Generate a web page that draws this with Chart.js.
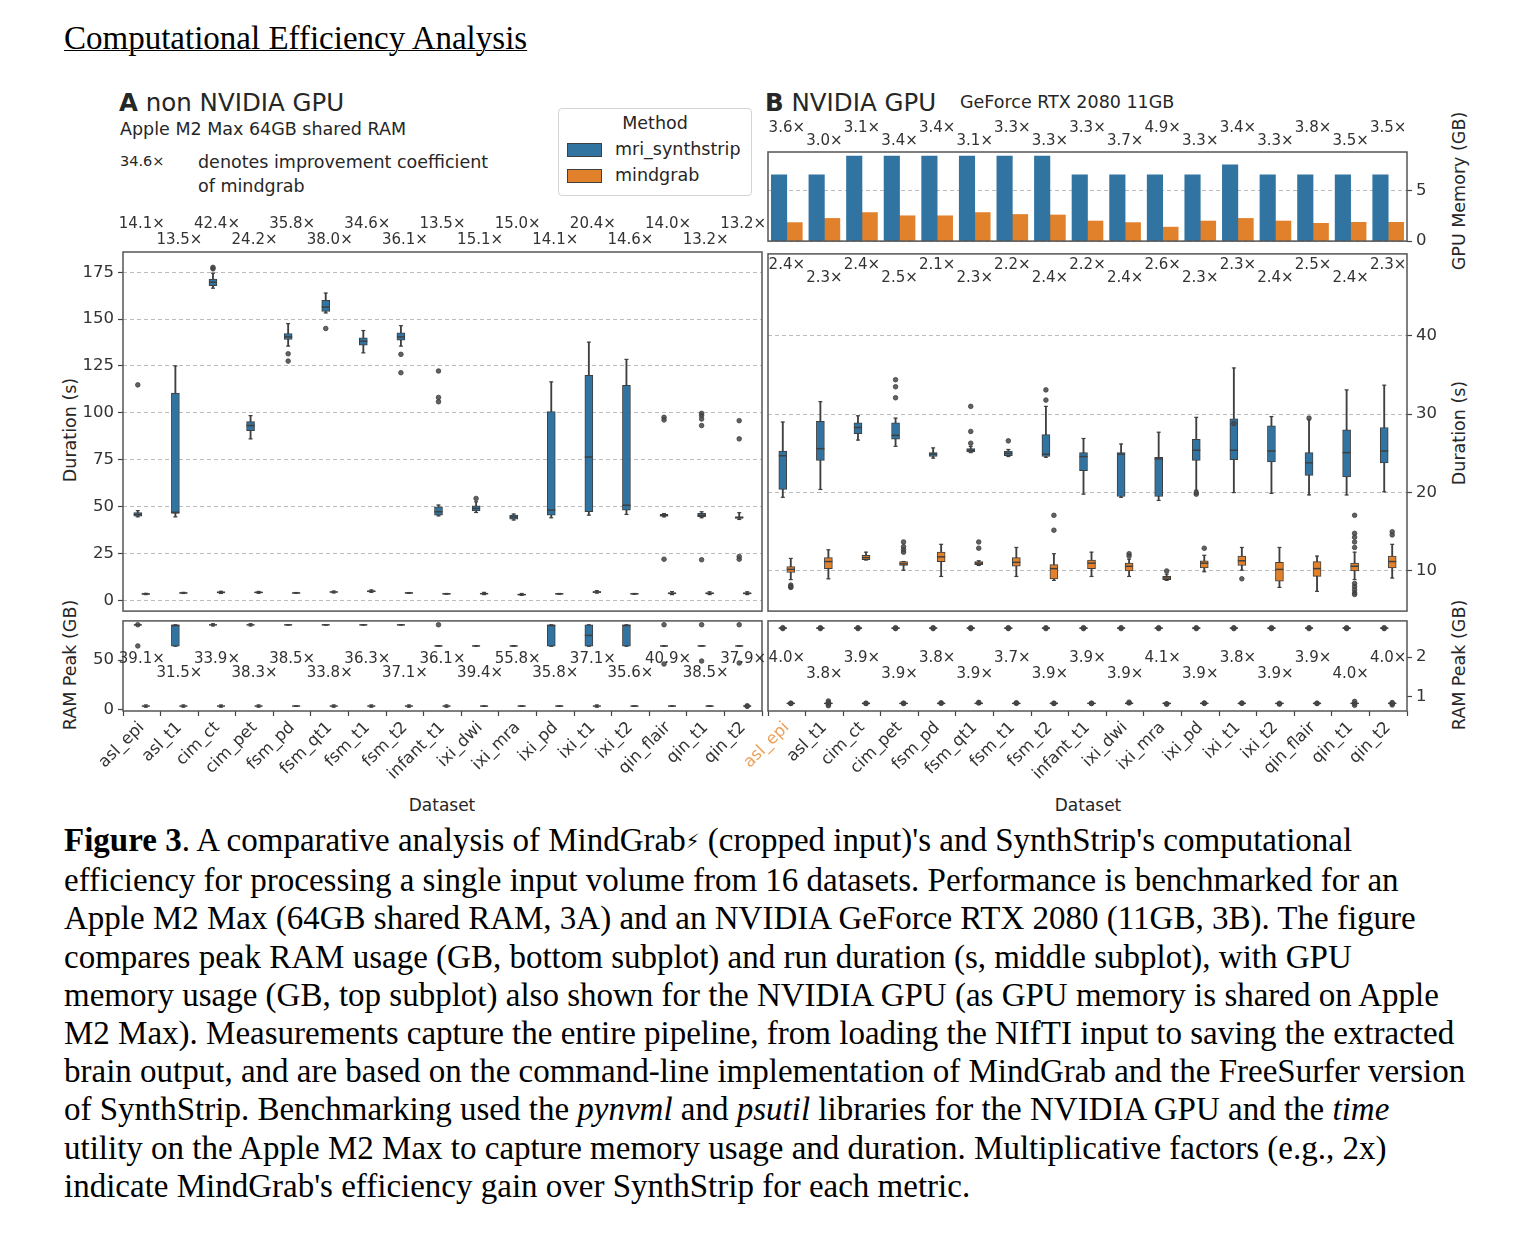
<!DOCTYPE html>
<html>
<head>
<meta charset="utf-8">
<title>Computational Efficiency Analysis</title>
<script src="https://cdn.jsdelivr.net/npm/chart.js@4.4.1/dist/chart.umd.min.js"></script>
<style>
    body { margin: 0; width: 1528px; height: 1233px; position: relative; overflow: hidden; background: #fff; color: #262626; font-family: "DejaVu Sans", sans-serif; }
    canvas { position: absolute; }
    .t { position: absolute; white-space: nowrap; line-height: 1; transform: translateY(-50%); }
    .rt { position: absolute; white-space: nowrap; line-height: 1; font-size: 17.5px; transform: translate(-50%, -50%) rotate(-90deg); }
    .ct { position: absolute; white-space: nowrap; line-height: 1; font-size: 17px; transform: translate(-50%, -50%); }
    #title { position: absolute; left: 64px; top: 20px; font: 33px "Liberation Serif", serif; line-height: 36px; text-decoration: underline; text-decoration-thickness: 1px; color: #000; }
    #caption { position: absolute; left: 64px; top: 821px; font: 33px "Liberation Serif", serif; line-height: 38.2px; white-space: nowrap; color: #000; }
    #caption .bolt { font-family: "DejaVu Sans", sans-serif; font-size: 0.6em; vertical-align: 0.15em; }
    #legend { position: absolute; left: 558px; top: 108px; width: 192px; height: 86px; border: 1px solid #d4d4d4; border-radius: 4px; background: #fff; font-size: 17.5px; }
    #legend .patch { position: absolute; left: 8px; width: 35px; height: 14px; border: 1px solid #3f3f3f; box-sizing: border-box; }
</style>
</head>
<body>

<div id="title">Computational Efficiency Analysis</div>

<div class="t" style="left:119px; top:103px; font-size:24.5px;"><b>A</b> non NVIDIA GPU</div>
<div class="t" style="left:120px; top:130px; font-size:17.5px;">Apple M2 Max 64GB shared RAM</div>
<div class="t" style="left:120px; top:161px; font-size:14.5px;">34.6×</div>
<div class="t" style="left:198px; top:163px; font-size:17.5px;">denotes improvement coefficient</div>
<div class="t" style="left:198px; top:187px; font-size:17.5px;">of mindgrab</div>

<div id="legend">
    <div class="ct" style="left:96px; top:15px; font-size:17.5px;">Method</div>
    <div class="patch" style="top:34px; background:#3274a1;"></div>
    <div class="t" style="left:56px; top:41px;">mri_synthstrip</div>
    <div class="patch" style="top:60px; background:#e1812c;"></div>
    <div class="t" style="left:56px; top:67px;">mindgrab</div>
</div>

<div class="t" style="left:765px; top:103px; font-size:24.5px;"><b>B</b> NVIDIA GPU</div>
<div class="t" style="left:960px; top:103px; font-size:17.5px;">GeForce RTX 2080 11GB</div>

<div class="rt" style="left:71px; top:430px;">Duration (s)</div>
<div class="rt" style="left:71px; top:665px;">RAM Peak (GB)</div>
<div class="rt" style="left:1460px; top:191px;">GPU Memory (GB)</div>
<div class="rt" style="left:1460px; top:433px;">Duration (s)</div>
<div class="rt" style="left:1460px; top:665px;">RAM Peak (GB)</div>
<div class="ct" style="left:442px; top:805px;">Dataset</div>
<div class="ct" style="left:1088px; top:805px;">Dataset</div>

<div id="caption"><b>Figure 3</b>. A comparative analysis of MindGrab<span class="bolt">⚡</span> (cropped input)'s and SynthStrip's computational<br>efficiency for processing a single input volume from 16 datasets. Performance is benchmarked for an<br>Apple M2 Max (64GB shared RAM, 3A) and an NVIDIA GeForce RTX 2080 (11GB, 3B). The figure<br>compares peak RAM usage (GB, bottom subplot) and run duration (s, middle subplot), with GPU<br>memory usage (GB, top subplot) also shown for the NVIDIA GPU (as GPU memory is shared on Apple<br>M2 Max). Measurements capture the entire pipeline, from loading the NIfTI input to saving the extracted<br>brain output, and are based on the command-line implementation of MindGrab and the FreeSurfer version<br>of SynthStrip. Benchmarking used the <i>pynvml</i> and <i>psutil</i> libraries for the NVIDIA GPU and the <i>time</i><br>utility on the Apple M2 Max to capture memory usage and duration. Multiplicative factors (e.g., 2x)<br>indicate MindGrab's efficiency gain over SynthStrip for each metric.</div>

<script>
// --- Data ---
const names = ["asl_epi", "asl_t1", "cim_ct", "cim_pet", "fsm_pd", "fsm_qt1", "fsm_t1", "fsm_t2",
    "infant_t1", "ixi_dwi", "ixi_mra", "ixi_pd", "ixi_t1", "ixi_t2", "qin_flair", "qin_t1", "qin_t2"];

// box stats are [whisker low, q1, median, q3, whisker high]
// A: Apple M2 Max, duration (s)
const aDurSynth = [
    [44.5, 44.9, 45.8, 46.8, 47.8], [44.5, 46.3, 46.9, 110.5, 125.0], [166.5, 167.9, 169.7, 171.3, 174.5],
    [86.1, 90.5, 93.2, 95.3, 98.5], [135.6, 139.1, 140.5, 142.3, 147.6], [153.3, 154.1, 156.4, 160.0, 163.9],
    [132.0, 136.1, 138.2, 140.0, 143.9], [135.6, 138.8, 140.5, 142.7, 146.5], [45.0, 45.4, 47.2, 49.8, 50.8],
    [46.8, 47.7, 49.0, 50.4, 52.5], [42.8, 43.3, 44.4, 45.4, 46.0], [44.0, 45.4, 48.1, 100.6, 116.5],
    [45.4, 47.2, 76.4, 120.0, 137.7], [45.8, 48.1, 50.7, 114.7, 128.5], [44.5, 44.9, 45.2, 45.8, 46.2],
    [44.0, 44.6, 45.3, 46.3, 47.2], [43.1, 43.6, 44.2, 44.5, 46.7]
];
const aDurSynthOut = [[114.9], [], [176.8, 177.6], [], [131.5, 127.6], [145.0], [], [131.2, 121.4],
    [122.3, 108.2, 105.9], [54.3], [], [], [], [], [97.6, 96.2, 21.9], [99.7, 98.5, 96.7, 93.2, 21.6],
    [95.8, 86.1, 23.3, 21.9]];
const aDurMind = [
    [3.0, 3.2, 3.35, 3.5, 3.7], [3.6, 3.8, 3.9, 4.0, 4.2], [3.6, 3.9, 4.2, 4.5, 4.8], [3.7, 4.1, 4.2, 4.3, 4.7],
    [3.7, 3.8, 3.9, 4.0, 4.1], [3.9, 4.3, 4.4, 4.5, 4.9], [4.2, 4.5, 4.8, 5.0, 5.5], [3.7, 3.8, 3.9, 4.0, 4.1],
    [3.2, 3.3, 3.4, 3.5, 3.6], [3.0, 3.3, 3.5, 3.7, 4.2], [2.6, 2.8, 3.0, 3.2, 3.6], [3.2, 3.3, 3.4, 3.5, 3.6],
    [3.8, 4.1, 4.4, 4.6, 5.1], [3.2, 3.3, 3.4, 3.5, 3.6], [3.0, 3.4, 3.7, 3.9, 4.6], [3.0, 3.4, 3.7, 3.9, 4.5],
    [3.0, 3.4, 3.7, 3.9, 4.5]
];
const aDurMindOut = names.map(() => []);
const aDurCoef = [14.1, 13.5, 42.4, 24.2, 35.8, 38.0, 34.6, 36.1, 13.5, 15.1, 15.0, 14.1, 20.4, 14.6, 14.0, 13.2, 13.2];
const aDurTicks = [0, 25, 50, 75, 100, 125, 150, 175];

// A: Apple M2 Max, RAM peak (GB)
const aRamSynth = [
    [85.7, 85.7, 85.7, 85.7, 85.7], [64.0, 64.0, 85.0, 85.7, 85.7], [84.6, 85.7, 85.7, 85.7, 86.8],
    [84.6, 85.7, 85.7, 85.7, 86.8], [85.7, 85.7, 85.7, 85.7, 85.7], [85.7, 85.7, 85.7, 85.7, 85.7],
    [85.7, 85.7, 85.7, 85.7, 85.7], [85.7, 85.7, 85.7, 85.7, 85.7], [64.3, 64.3, 64.3, 64.3, 64.3],
    [64.3, 64.3, 64.3, 64.3, 64.3], [64.3, 64.3, 64.3, 64.3, 64.3], [64.0, 64.0, 85.0, 85.7, 85.7],
    [64.0, 64.0, 75.0, 85.7, 85.7], [64.0, 64.0, 85.0, 85.7, 85.7], [64.3, 64.3, 64.3, 64.3, 64.3],
    [64.3, 64.3, 64.3, 64.3, 64.3], [64.3, 64.3, 64.3, 64.3, 64.3]
];
const aRamSynthOut = [[85.8, 64.3], [], [], [], [], [], [], [], [85.8], [], [], [], [], [],
    [85.8, 46.0], [85.8, 49.0], [85.8, 47.0]];
const aRamMind = [
    [2.2, 3.3, 3.3, 3.3, 4.4], [2.2, 3.3, 3.3, 3.3, 4.4], [2.2, 3.3, 3.3, 3.3, 4.4], [2.2, 3.3, 3.3, 3.3, 4.4],
    [3.3, 3.3, 3.3, 3.3, 3.3], [2.2, 3.3, 3.3, 3.3, 4.4], [2.2, 3.3, 3.3, 3.3, 4.4], [2.2, 3.3, 3.3, 3.3, 4.4],
    [2.2, 3.3, 3.3, 3.3, 4.4], [3.3, 3.3, 3.3, 3.3, 3.3], [3.3, 3.3, 3.3, 3.3, 3.3], [3.3, 3.3, 3.3, 3.3, 3.3],
    [2.2, 3.3, 3.3, 3.3, 4.4], [3.3, 3.3, 3.3, 3.3, 3.3], [3.3, 3.3, 3.3, 3.3, 3.3], [3.3, 3.3, 3.3, 3.3, 3.3],
    [3.3, 3.3, 3.3, 3.3, 3.3]
];
const aRamMindOut = [[], [], [], [], [], [], [], [], [], [], [], [], [], [], [], [], [3.0, 3.6]];
const aRamCoef = [39.1, 31.5, 33.9, 38.3, 38.5, 33.8, 36.3, 37.1, 36.1, 39.4, 55.8, 35.8, 37.1, 35.6, 40.9, 38.5, 37.9];
const aRamTicks = [0, 50];

// B: NVIDIA GPU, GPU memory (GB)
const gpuSynth = [6.6, 6.6, 8.46, 8.46, 8.46, 8.46, 8.46, 8.46, 6.6, 6.6, 6.6, 6.6, 7.6, 6.6, 6.6, 6.6, 6.6];
const gpuMind = [1.84, 2.26, 2.84, 2.52, 2.52, 2.84, 2.65, 2.6, 2.0, 1.84, 1.39, 2.0, 2.26, 2.0, 1.77, 1.87, 1.87];
const gpuCoef = [3.6, 3.0, 3.1, 3.4, 3.4, 3.1, 3.3, 3.3, 3.3, 3.7, 4.9, 3.3, 3.4, 3.3, 3.8, 3.5, 3.5];
const gpuTicks = [0, 5];

// B: NVIDIA GPU, duration (s)
const bDurSynth = [
    [19.4, 20.4, 24.7, 25.3, 29.0], [20.4, 24.1, 25.6, 29.1, 31.6], [26.7, 27.5, 28.3, 28.9, 29.8],
    [25.9, 26.8, 27.3, 28.9, 29.5], [24.4, 24.6, 24.9, 25.1, 25.7], [25.1, 25.2, 25.4, 25.6, 25.9],
    [24.6, 24.7, 25.0, 25.3, 25.5], [24.5, 24.6, 24.9, 27.4, 31.0], [19.8, 22.8, 24.6, 25.1, 26.9],
    [19.4, 19.5, 24.9, 25.1, 26.2], [19.0, 19.5, 24.3, 24.5, 27.7], [20.3, 24.1, 25.4, 26.8, 29.6],
    [20.0, 24.2, 25.4, 29.4, 35.9], [19.9, 23.9, 25.3, 28.5, 29.7], [19.7, 22.2, 23.8, 25.1, 29.3],
    [19.7, 22.0, 25.1, 28.0, 33.1], [20.1, 23.8, 25.3, 28.3, 33.7]
];
const bDurSynthOut = [[], [], [], [34.4, 33.5, 32.1], [], [31.0, 27.8, 26.3], [26.6], [33.1, 31.8], [], [], [],
    [20.0, 19.8], [28.8], [], [29.5], [], []];
const bDurMind = [
    [8.9, 9.8, 10.2, 10.55, 11.6], [9.0, 10.3, 11.2, 11.7, 12.7], [11.4, 11.45, 11.7, 12.0, 12.4],
    [10.1, 10.7, 10.9, 11.2, 11.2], [9.3, 11.2, 11.8, 12.4, 13.4], [10.7, 10.8, 11.0, 11.2, 11.3],
    [9.3, 10.6, 11.1, 11.7, 13.0], [8.8, 9.0, 10.3, 10.8, 12.2], [9.3, 10.3, 11.0, 11.4, 12.4],
    [9.3, 10.0, 10.6, 11.0, 11.5], [8.8, 8.9, 9.1, 9.3, 9.6], [9.9, 10.4, 11.0, 11.3, 12.0],
    [10.1, 10.7, 11.3, 11.9, 13.0], [7.9, 8.7, 10.2, 11.1, 13.0], [7.4, 9.3, 10.3, 11.2, 11.9],
    [8.9, 10.0, 10.6, 11.0, 12.4], [9.1, 10.4, 11.2, 11.9, 13.4]
];
const bDurMindOut = [[8.2, 7.9, 8.0], [], [], [13.7, 13.1, 12.7, 12.4], [], [13.7, 12.9], [], [17.1, 15.2], [],
    [12.2, 11.9], [10.0], [12.9], [9.0], [], [], [17.1, 14.8, 14.3, 13.7, 13.0, 8.4, 8.0, 7.6, 7.2, 7.0], [15.0, 14.6]];
const bDurCoef = [2.4, 2.3, 2.4, 2.5, 2.1, 2.3, 2.2, 2.4, 2.2, 2.4, 2.6, 2.3, 2.3, 2.4, 2.5, 2.4, 2.3];
const bDurTicks = [10, 20, 30, 40];

// B: NVIDIA GPU, RAM peak (GB)
const bRamSynth = names.map(() => [2.72, 2.73, 2.74, 2.75, 2.76]);
const bRamSynthOut = names.map(() => [2.728, 2.752]);
const bRamMind = names.map(() => [0.80, 0.81, 0.82, 0.83, 0.84]);
const bRamMindOut = [[0.815, 0.825], [0.76, 0.80, 0.84, 0.88], [0.815, 0.825], [0.815, 0.825], [0.82, 0.835],
    [0.83, 0.845], [0.82, 0.835], [0.815, 0.825], [0.815, 0.825], [0.83, 0.85], [0.8, 0.81], [0.82, 0.83],
    [0.82, 0.83], [0.8, 0.82], [0.815, 0.825], [0.77, 0.82, 0.87], [0.78, 0.82, 0.84]];
const bRamCoef = [4.0, 3.8, 3.9, 3.9, 3.8, 3.9, 3.7, 3.9, 3.9, 3.9, 4.1, 3.9, 3.8, 3.9, 3.9, 4.0, 4.0];
const bRamTicks = [1, 2];

// --- Styling ---
const BLUE = "#3274a1";
const ORANGE = "#e1812c";
const EDGE = "#3f3f3f";
const GRID = "rgba(165, 165, 165, 0.75)";
const DODGE = 0.1064;      // hue offset of the boxes, in category units
const BAR_DODGE = 0.206;   // hue offset of the GPU memory bars

Chart.defaults.font.family = '"DejaVu Sans", sans-serif';
Chart.defaults.color = "#333";

function mount(id, left, top, width, height) {
    const canvas = document.createElement("canvas");
    canvas.id = id;
    canvas.width = width;
    canvas.height = height;
    canvas.style.left = left + "px";
    canvas.style.top = top + "px";
    canvas.style.width = width + "px";
    canvas.style.height = height + "px";
    document.body.appendChild(canvas);
    return canvas.getContext("2d");
}

const framePlugin = {
    id: "frame",
    afterDraw(chart) {
        const { ctx, chartArea: a } = chart;
        ctx.save();
        ctx.strokeStyle = "#555";
        ctx.lineWidth = 1.5;
        ctx.strokeRect(a.left, a.top, a.right - a.left, a.bottom - a.top);
        ctx.restore();
    }
};

// improvement coefficients, alternating in two rows above/inside the frame
function coefLabels(values, rows) {
    return {
        id: "coef",
        afterDraw(chart) {
            const { ctx, chartArea: a, scales: { x } } = chart;
            ctx.save();
            ctx.font = '15px "DejaVu Sans", sans-serif';
            ctx.fillStyle = "#333";
            ctx.textAlign = "center";
            ctx.textBaseline = "middle";
            values.forEach((v, i) => {
                ctx.fillText(v.toFixed(1) + "×", x.getPixelForValue(i), a.top + rows[i % 2]);
            });
            ctx.restore();
        }
    };
}

function boxSets(stats, outs, dx, fill) {
    const at = i => i + dx;
    const bar = { type: "bar", grouped: false, categoryPercentage: 1, barPercentage: 1 };
    return [
        { ...bar, data: stats.map((s, i) => ({ x: at(i), y: [s[0], s[4]] })), backgroundColor: EDGE, maxBarThickness: 1.2, order: 4 },
        { ...bar, data: stats.map((s, i) => ({ x: at(i), y: [s[1], s[3]] })), backgroundColor: fill,
          borderColor: EDGE, borderWidth: 1, borderSkipped: false, order: 3 },
        { type: "scatter", data: stats.flatMap((s, i) => [{ x: at(i), y: s[0] }, { x: at(i), y: s[4] }]),
          pointStyle: "line", pointRadius: 2, pointBorderColor: EDGE, pointBorderWidth: 1.2, order: 2 },
        { type: "scatter", data: stats.map((s, i) => ({ x: at(i), y: s[2] })),
          pointStyle: "line", pointRadius: 4, pointBorderColor: EDGE, pointBorderWidth: 1.5, order: 1 },
        { type: "scatter", data: outs.flatMap((o, i) => o.map(v => ({ x: at(i), y: v }))),
          pointStyle: "circle", pointRadius: 2.3, pointBackgroundColor: "rgba(70, 70, 70, 0.85)",
          pointBorderColor: EDGE, pointBorderWidth: 0.8, order: 0 }
    ];
}

function xAxis(show, firstColor) {
    return {
        type: "linear", display: show, offset: false,
        min: -0.5, max: names.length - 0.5,
        afterBuildTicks: s => { s.ticks = names.map((_, i) => ({ value: i })); },
        afterFit: s => { s.height = show ? 109 : 0; },
        ticks: {
            callback: v => names[v], autoSkip: false, minRotation: 45, maxRotation: 45, padding: 2,
            font: { size: 16.5 },
            color: c => (firstColor && c.index === 0 ? firstColor : "#333")
        },
        grid: { drawOnChartArea: false, tickLength: 5, tickColor: "#444", tickWidth: 1.2 },
        border: { display: false }
    };
}

function yAxis(position, min, max, ticks, width, gridOn) {
    return {
        type: "linear", position, min, max, beginAtZero: false,
        afterBuildTicks: s => { s.ticks = ticks.map(v => ({ value: v })); },
        afterFit: s => { s.width = width; },
        ticks: { font: { size: 16.5 }, color: "#333", padding: 4 },
        grid: { drawOnChartArea: gridOn, color: GRID, lineWidth: 1, tickLength: 5, tickColor: "#444", tickWidth: 1.2 },
        border: { display: false, dash: [4, 3] }
    };
}

function makePanel(ctx, datasets, padding, x, y, coef) {
    return new Chart(ctx, {
        type: "bar",
        data: { datasets },
        options: {
            responsive: false,
            animation: false,
            events: [],
            layout: { padding, autoPadding: false },
            scales: { x, y },
            plugins: { legend: { display: false }, tooltip: { enabled: false } }
        },
        plugins: [framePlugin, coef]
    });
}

// --- Panel A: duration ---
makePanel(mount("aDur", 60, 192, 710, 433),
    [...boxSets(aDurSynth, aDurSynthOut, -DODGE, BLUE), ...boxSets(aDurMind, aDurMindOut, DODGE, ORANGE)],
    { left: 0, right: 8, top: 60, bottom: 12 },
    xAxis(false), yAxis("left", -5.8, 185.8, aDurTicks, 63, true),
    coefLabels(aDurCoef, [-28, -12]));

// --- Panel A: RAM peak ---
makePanel(mount("aRam", 60, 607, 710, 213),
    [...boxSets(aRamSynth, aRamSynthOut, -DODGE, BLUE), ...boxSets(aRamMind, aRamMindOut, DODGE, ORANGE)],
    { left: 0, right: 8, top: 12, bottom: 0 },
    xAxis(true), yAxis("left", -1.7, 89.7, aRamTicks, 63, false),
    coefLabels(aRamCoef, [38, 52]));

// --- Panel B: GPU memory ---
const bar = { type: "bar", grouped: false, categoryPercentage: 1, barPercentage: 1 };
makePanel(mount("bGpu", 758, 112, 719, 143),
    [
        { ...bar, data: gpuSynth.map((v, i) => ({ x: i - BAR_DODGE, y: v })), backgroundColor: BLUE },
        { ...bar, data: gpuMind.map((v, i) => ({ x: i + BAR_DODGE, y: v })), backgroundColor: ORANGE }
    ],
    { left: 10, right: 0, top: 40, bottom: 12 },
    xAxis(false), yAxis("right", 0, 8.87, gpuTicks, 70, true),
    coefLabels(gpuCoef, [-24, -11]));

// --- Panel B: duration ---
makePanel(mount("bDur", 758, 240, 719, 385),
    [...boxSets(bDurSynth, bDurSynthOut, -DODGE, BLUE), ...boxSets(bDurMind, bDurMindOut, DODGE, ORANGE)],
    { left: 10, right: 0, top: 12, bottom: 12 },
    xAxis(false), yAxis("right", 4.88, 50.45, bDurTicks, 70, true),
    coefLabels(bDurCoef, [11, 24]));

// --- Panel B: RAM peak ---
makePanel(mount("bRam", 700, 607, 777, 213),
    [...boxSets(bRamSynth, bRamSynthOut, -DODGE, BLUE), ...boxSets(bRamMind, bRamMindOut, DODGE, ORANGE)],
    { left: 68, right: 0, top: 12, bottom: 0 },
    xAxis(true, "#eba25c"), yAxis("right", 0.625, 2.925, bRamTicks, 70, false),
    coefLabels(bRamCoef, [37, 53]));
</script>
</body>
</html>
